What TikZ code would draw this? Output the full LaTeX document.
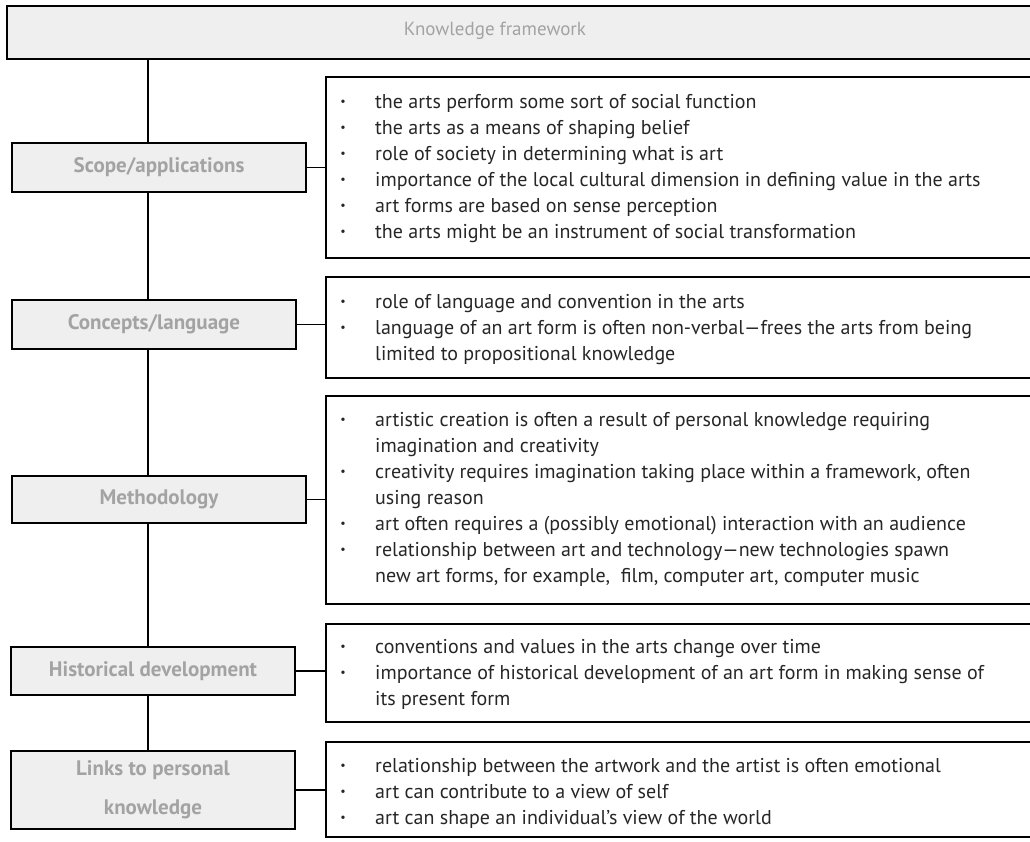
\documentclass[tikz,border=0pt]{standalone}
\usepackage{fontspec}
\setmainfont{PT Sans}
\usepackage{array}
\definecolor{lblgray}{HTML}{A3A3A3}
\definecolor{boxfill}{HTML}{EFEFEF}
\definecolor{txt}{HTML}{262626}
\newcommand{\bul}{\makebox[10pt][c]{\raisebox{2.3pt}{\scalebox{0.6}{\textbullet}}}}
\newenvironment{blist}{\fontsize{20}{26}\selectfont\color{txt}\begin{tabular}[t]{@{}l@{\hspace{27pt}}l@{}}}{\end{tabular}}
\begin{document}
\begin{tikzpicture}[x=1pt,y=-1pt,
  lbox/.style={draw=black, line width=1.6pt, fill=boxfill, text=lblgray, font=\fontsize{21}{39}\selectfont\bfseries, align=center, inner sep=0pt},
  rbox/.style={draw=black, line width=1.6pt, anchor=north west, inner sep=0pt},
  conn/.style={draw=black, line width=1.6pt},
  trunk/.style={draw=black, line width=1.4pt},
  txtnode/.style={anchor=base west, inner sep=0pt}]
\useasboundingbox (0,0) rectangle (1030,841);
\clip (0,0) rectangle (1030,841);
% top box
\node[draw=black, line width=1.6pt, fill=boxfill, anchor=north west, minimum width=1040, minimum height=53, inner sep=0pt] (top) at (6,5) {};
\node[text=lblgray, font=\fontsize{19}{20}\selectfont, inner sep=0pt] (toplbl) at (495,31) {Knowledge framework};
\coordinate (tx) at (148,0);
% left boxes
\node[lbox, minimum width=294, minimum height=49] (sL) at (159,167.5) {Scope/applications};
\node[lbox, minimum width=284, minimum height=49] (cL) at (154,324.5) {Concepts/language};
\node[lbox, minimum width=294, minimum height=47] (mL) at (159,499.5) {Methodology};
\node[lbox, minimum width=284, minimum height=48] (hL) at (153,671) {Historical development};
\node[lbox, minimum width=284, minimum height=78] (lL) at (153,790) {Links to personal\\knowledge};
% right boxes
\node[rbox, minimum width=720, minimum height=181] (sR) at (325,76) {};
\node[rbox, minimum width=720, minimum height=101] (cR) at (325,276) {};
\node[rbox, minimum width=720, minimum height=208] (mR) at (325,395) {};
\node[rbox, minimum width=720, minimum height=98] (hR) at (325,623) {};
\node[rbox, minimum width=720, minimum height=95] (lR) at (325,741) {};
% texts
\node[txtnode] (sT) at (338,108) {\begin{blist}
\bul & the arts perform some sort of social function\\
\bul & the arts as a means of shaping belief\\
\bul & role of society in determining what is art\\
\bul & importance of the local cultural dimension in defining value in the arts\\
\bul & art forms are based on sense perception\\
\bul & the arts might be an instrument of social transformation
\end{blist}};
\node[txtnode] (cT) at (338,308) {\begin{blist}
\bul & role of language and convention in the arts\\
\bul & language of an art form is often non-verbal---frees the arts from being\\
 & limited to propositional knowledge
\end{blist}};
\node[txtnode] (mT) at (338,426) {\begin{blist}
\bul & artistic creation is often a result of personal knowledge requiring\\
 & imagination and creativity\\
\bul & creativity requires imagination taking place within a framework, often\\
 & using reason\\
\bul & art often requires a (possibly emotional) interaction with an audience\\
\bul & relationship between art and technology---new technologies spawn\\
 & new art forms, for example,\ \ film, computer art, computer music
\end{blist}};
\node[txtnode] (hT) at (338,653) {\begin{blist}
\bul & conventions and values in the arts change over time\\
\bul & importance of historical development of an art form in making sense of\\
 & its present form
\end{blist}};
\node[txtnode] (lT) at (338,772) {\begin{blist}
\bul & relationship between the artwork and the artist is often emotional\\
\bul & art can contribute to a view of self\\
\bul & art can shape an individual’s view of the world
\end{blist}};
% trunk
\draw[trunk] (top.south -| tx) -- (sL.north -| tx);
\draw[trunk] (sL.south -| tx) -- (cL.north -| tx);
\draw[trunk] (cL.south -| tx) -- (mL.north -| tx);
\draw[trunk] (mL.south -| tx) -- (hL.north -| tx);
\draw[trunk] (hL.south -| tx) -- (lL.north -| tx);
% horizontal connectors
\draw[conn] (sL.east) -- (sR.west |- sL.east);
\draw[conn] (cL.east) -- (cR.west |- cL.east);
\draw[conn] (mL.east) -- (mR.west |- mL.east);
\draw[conn] (hL.east) -- (hR.west |- hL.east);
\draw[conn] (lL.east) -- (lR.west |- lL.east);
\end{tikzpicture}
\end{document}
